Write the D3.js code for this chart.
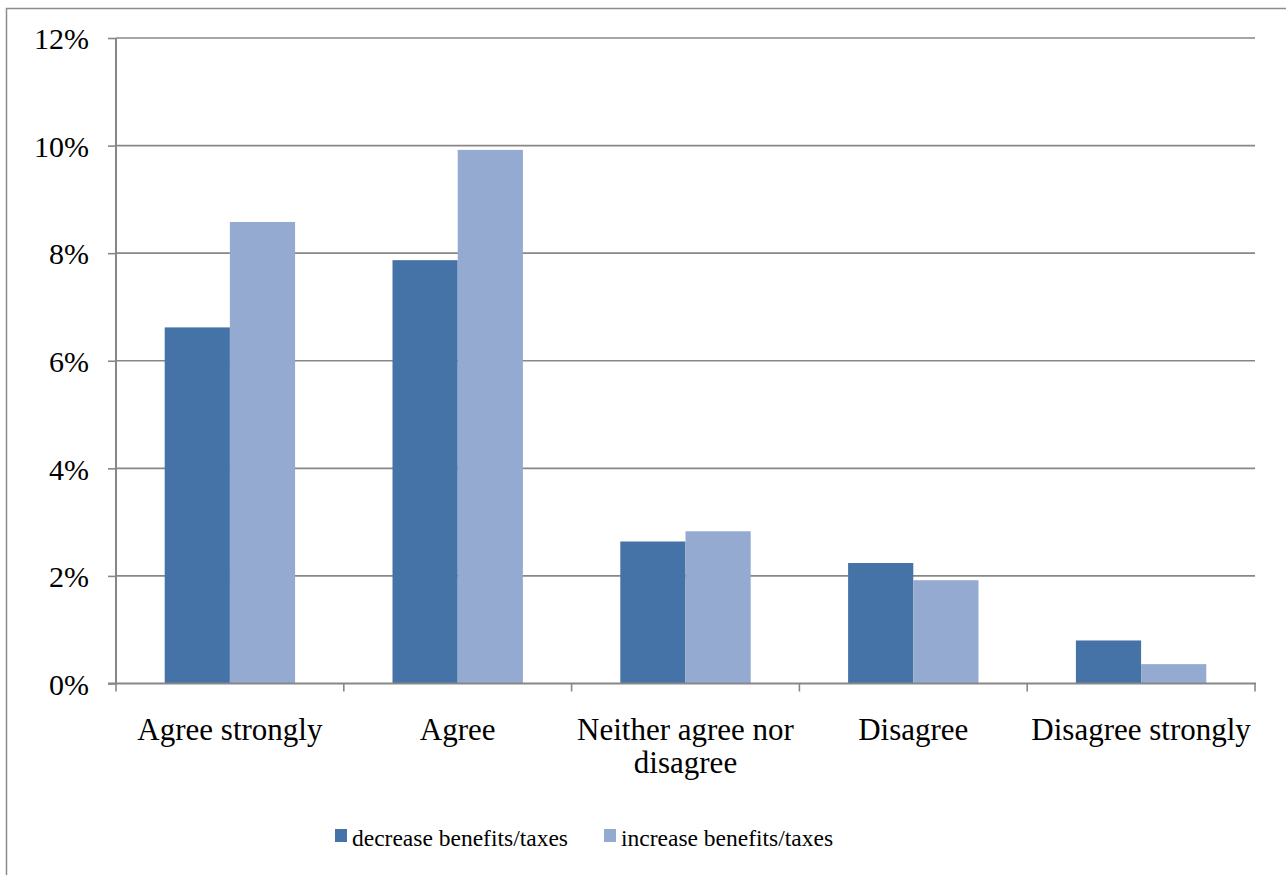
<!DOCTYPE html>
<html>
<head>
<meta charset="utf-8">
<script src="https://cdn.jsdelivr.net/npm/d3@7"></script>
<style>
  html, body { margin: 0; padding: 0; background: #fff; }
  svg { display: block; }
  svg text { font-family: "Liberation Serif", Tinos, "Times New Roman", Times, "DejaVu Serif", "Noto Serif", serif; fill: #000; }
</style>
</head>
<body>
<svg id="chart" width="1286" height="875"></svg>
<script>
// Survey response categories
const categories = ["Agree strongly", "Agree", "Neither agree nor disagree", "Disagree", "Disagree strongly"];
// Series names
const seriesNames = ["decrease benefits/taxes", "increase benefits/taxes"];
// Share of respondents per category (fractions)
const decreaseValues = [0.0662, 0.0787, 0.0264, 0.0224, 0.0080];
const increaseValues = [0.0858, 0.0992, 0.0283, 0.0192, 0.0036];
// Y axis tick values
const yTicks = [0, 0.02, 0.04, 0.06, 0.08, 0.10, 0.12];

const colors = ["#4673A7", "#95AAD1"];
const gridColor = "#878787";
const serif = "'Liberation Serif', Tinos, 'Times New Roman', Times, 'DejaVu Serif', 'Noto Serif', serif";

const svg = d3.select("#chart");

const plot = { left: 116, right: 1255, top: 38, bottom: 683.5 };

// outer chart frame
svg.append("rect")
  .attr("x", 6.5).attr("y", 8.5)
  .attr("width", 1300).attr("height", 900)
  .attr("fill", "none").attr("stroke", "#8c8c8c").attr("stroke-width", 1.5);

const x0 = d3.scaleBand().domain(categories).range([plot.left, plot.right]).padding(0);
const x1 = d3.scaleBand().domain(seriesNames).range([0, x0.bandwidth()])
  .paddingInner(0).paddingOuter(0.747);
const y = d3.scaleLinear().domain([0, 0.12]).range([plot.bottom, plot.top]);

// horizontal gridlines
svg.append("g").selectAll("line")
  .data(yTicks.filter(d => d > 0))
  .join("line")
  .attr("x1", plot.left).attr("x2", plot.right)
  .attr("y1", d => y(d)).attr("y2", d => y(d))
  .attr("stroke", gridColor).attr("stroke-width", 1.6);

// bars
const rows = categories.map((c, i) => ({ cat: c, vals: [decreaseValues[i], increaseValues[i]] }));
const groups = svg.append("g").selectAll("g")
  .data(rows)
  .join("g")
  .attr("transform", d => `translate(${x0(d.cat)},0)`);
groups.selectAll("rect")
  .data(d => d.vals.map((v, k) => ({ key: seriesNames[k], v, k })))
  .join("rect")
  .attr("x", d => x1(d.key))
  .attr("width", x1.bandwidth())
  .attr("y", d => y(d.v))
  .attr("height", d => y(0) - y(d.v))
  .attr("fill", d => colors[d.k]);

// y axis
const yAxis = d3.axisLeft(y)
  .tickValues(yTicks)
  .tickFormat(d3.format(".0%"))
  .tickSize(8)
  .tickPadding(19);
const gy = svg.append("g")
  .attr("transform", `translate(${plot.left},0)`)
  .call(yAxis)
  .attr("font-family", serif);
gy.select(".domain").attr("stroke", gridColor).attr("stroke-width", 2)
  .attr("d", `M0,${plot.top}V${plot.bottom}`);
gy.selectAll(".tick line").attr("stroke", gridColor).attr("stroke-width", 1.6);
gy.selectAll(".tick text")
  .attr("font-size", 30)
  .attr("font-family", serif)
  .attr("fill", "#000")
  .attr("dy", "0.36em");

// x axis: baseline and category boundary ticks
const boundaries = categories.map(c => x0(c)).concat([plot.right]);
svg.append("line")
  .attr("x1", plot.left - 8).attr("x2", plot.right + 1)
  .attr("y1", plot.bottom).attr("y2", plot.bottom)
  .attr("stroke", gridColor).attr("stroke-width", 2);
svg.append("g").selectAll("line")
  .data(boundaries)
  .join("line")
  .attr("x1", d => d).attr("x2", d => d)
  .attr("y1", plot.bottom).attr("y2", plot.bottom + 8)
  .attr("stroke", gridColor).attr("stroke-width", 1.6);

// category labels (long ones wrap onto two lines)
const catLines = {
  "Neither agree nor disagree": ["Neither agree nor", "disagree"]
};
const labels = svg.append("g").selectAll("text")
  .data(categories)
  .join("text")
  .attr("x", d => x0(d) + x0.bandwidth() / 2)
  .attr("y", 740)
  .attr("text-anchor", "middle")
  .attr("font-family", serif)
  .attr("font-size", 31);
labels.each(function(d) {
  const lines = catLines[d] || [d];
  const t = d3.select(this);
  lines.forEach((ln, i) => {
    t.append("tspan")
      .attr("x", x0(d) + x0.bandwidth() / 2)
      .attr("dy", i === 0 ? 0 : 32.5)
      .text(ln);
  });
});

// legend
const legendItems = [
  { name: seriesNames[0], color: colors[0], x: 335 },
  { name: seriesNames[1], color: colors[1], x: 604 }
];
const lg = svg.append("g").selectAll("g")
  .data(legendItems)
  .join("g")
  .attr("transform", d => `translate(${d.x},0)`);
lg.append("rect")
  .attr("x", 0).attr("y", 829)
  .attr("width", 12).attr("height", 13)
  .attr("fill", d => d.color);
lg.append("text")
  .attr("x", 17).attr("y", 846)
  .attr("font-family", serif)
  .attr("font-size", 23.5)
  .text(d => d.name);
</script>
</body>
</html>
